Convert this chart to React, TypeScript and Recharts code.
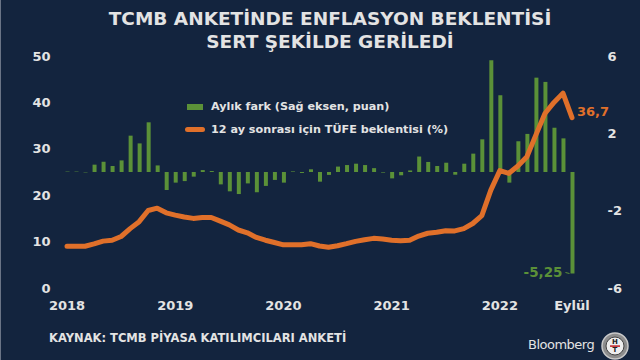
import React from 'react';
import { ComposedChart, Bar, Line, XAxis, YAxis, Legend } from 'recharts';

// aylar (Ocak 2018 - Eylül 2022)
const months = [
  '2018-01', '2018-02', '2018-03', '2018-04', '2018-05', '2018-06', '2018-07', '2018-08', '2018-09', '2018-10', '2018-11', '2018-12',
  '2019-01', '2019-02', '2019-03', '2019-04', '2019-05', '2019-06', '2019-07', '2019-08', '2019-09', '2019-10', '2019-11', '2019-12',
  '2020-01', '2020-02', '2020-03', '2020-04', '2020-05', '2020-06', '2020-07', '2020-08', '2020-09', '2020-10', '2020-11', '2020-12',
  '2021-01', '2021-02', '2021-03', '2021-04', '2021-05', '2021-06', '2021-07', '2021-08', '2021-09', '2021-10', '2021-11', '2021-12',
  '2022-01', '2022-02', '2022-03', '2022-04', '2022-05', '2022-06', '2022-07', '2022-08', '2022-09',
];

// 12 ay sonrası TÜFE beklentisi (%)
const beklenti = [
  9.0, 9.0, 9.0, 9.5, 10.1, 10.3, 11.1, 12.8, 14.3, 16.7, 17.2, 16.2,
  15.7, 15.3, 15.0, 15.2, 15.2, 14.4, 13.6, 12.5, 11.9, 10.9, 10.3, 9.8,
  9.3, 9.3, 9.3, 9.55, 9.05, 8.8, 9.1, 9.55, 10.05, 10.4, 10.7, 10.55,
  10.3, 10.2, 10.3, 11.2, 11.8, 12.0, 12.35, 12.3, 12.8, 13.9, 15.6, 21.1,
  25.3, 24.7, 26.3, 28.3, 33.0, 37.6, 40.0, 42.0, 36.7,
];

// aylık fark (puan, sağ eksen)
const aylikFark = [
  0.02, 0.02, -0.02, 0.38, 0.53, 0.31, 0.6, 1.88, 1.48, 2.57, 0.34, -0.93,
  -0.55, -0.47, -0.24, 0.1, 0.05, -0.64, -1.0, -1.14, -0.59, -1.05, -0.72, -0.41,
  -0.55, 0.03, -0.05, 0.14, -0.5, -0.15, 0.28, 0.36, 0.43, 0.36, 0.2, -0.03,
  -0.33, -0.17, 0.08, 0.8, 0.52, 0.31, 0.48, -0.14, 0.43, 0.95, 1.69, 5.78,
  3.97, -0.55, 1.59, 1.97, 4.88, 4.66, 2.29, 1.74, -5.25,
];

const xTicks = ['2018-01', '2019-01', '2020-01', '2021-01', '2022-01', '2022-09'];
const xTickLabels = ['2018', '2019', '2020', '2021', '2022', 'Eylül'];
const leftTicks = [0, 10, 20, 30, 40, 50];
const rightTicks = [-6, -2, 2, 6];

const data = months.map((m, i) => ({ ay: m, beklenti: beklenti[i], fark: aylikFark[i] }));

const BG = '#13243e';
const GREEN = '#5b9138';
const ORANGE = '#e0702a';
const TEXT = '#e3e3e3';
const FONT = '"DejaVu Sans", Verdana, sans-serif';

const last = data.length - 1;

const fmt = (v: number) => String(v).replace('.', ',');

const LineEndLabel = (props: any) => {
  const { x, y, index, value } = props;
  if (index !== last) return null;
  return (
    <text x={x + 5} y={y - 5} fill={ORANGE} fontSize={13} fontWeight="bold" fontFamily={FONT} dominantBaseline="middle">
      {fmt(value)}
    </text>
  );
};

const BarEndLabel = (props: any) => {
  const { x, y, height, index, value } = props;
  if (index !== last) return null;
  const yEnd = Math.max(y, y + height);
  return (
    <g>
      <line x1={x - 5} x2={x - 1} y1={yEnd - 1} y2={yEnd} stroke={GREEN} strokeWidth={1} />
      <text x={x - 8} y={yEnd - 1} fill={GREEN} fontSize={13.5} fontWeight="bold" fontFamily={FONT} textAnchor="end" dominantBaseline="middle">
        {fmt(value)}
      </text>
    </g>
  );
};

const CustomLegend = (props: any) => {
  const items = [...(props.payload || [])].sort((a: any) => (a.dataKey === 'fark' ? -1 : 1));
  return (
    <div style={{ fontFamily: FONT, fontSize: 11.2, fontWeight: 'bold', color: TEXT }}>
      {items.map((entry: any, i: number) => (
        <div key={`leg-${i}`} style={{ display: 'flex', alignItems: 'center', height: 23 }}>
          {entry.dataKey === 'fark' ? (
            <span style={{ display: 'inline-block', width: 16, height: 6, background: GREEN, marginLeft: 2, marginRight: 8 }} />
          ) : (
            <span style={{ display: 'inline-block', width: 20, height: 5, borderRadius: 3, background: ORANGE, marginRight: 6 }} />
          )}
          <span>{entry.value}</span>
        </div>
      ))}
    </div>
  );
};

const App: React.FC = () => {
  return (
    <div style={{ position: 'absolute', left: 0, top: 0, width: 640, height: 360, background: BG, fontFamily: FONT, overflow: 'hidden' }}>
      <div style={{ position: 'absolute', left: 0, top: 0, width: 1, height: 360, background: '#6a7486' }} />
      <div style={{ position: 'absolute', top: 7, left: 0, width: 660, textAlign: 'center', color: TEXT, fontSize: 18.5, fontWeight: 'bold', lineHeight: '23px' }}>
        TCMB ANKETİNDE ENFLASYON BEKLENTİSİ
        <br />
        SERT ŞEKİLDE GERİLEDİ
      </div>
      <ComposedChart width={640} height={360} data={data} margin={{ top: 56, right: 0, bottom: 42, left: 0 }}>
        <XAxis
          dataKey="ay"
          ticks={xTicks}
          interval={0}
          height={30}
          tickFormatter={(v: string) => xTickLabels[xTicks.indexOf(v)]}
          axisLine={false}
          tickLine={false}
          tickSize={0}
          tickMargin={13}
          tick={{ fill: TEXT, fontSize: 13, fontWeight: 'bold', fontFamily: FONT }}
        />
        <YAxis
          yAxisId="left"
          domain={[0, 50]}
          ticks={leftTicks}
          width={62.5}
          axisLine={false}
          tickLine={false}
          tickSize={0}
          tickMargin={12}
          tick={{ fill: TEXT, fontSize: 13, fontWeight: 'bold', fontFamily: FONT }}
        />
        <YAxis
          yAxisId="right"
          orientation="right"
          domain={[-6, 6]}
          ticks={rightTicks}
          width={63.5}
          axisLine={false}
          tickLine={false}
          tickSize={0}
          tickMargin={31}
          tick={{ fill: TEXT, fontSize: 13, fontWeight: 'bold', fontFamily: FONT }}
        />
        <Legend
          layout="vertical"
          align="center"
          verticalAlign="middle"
          content={<CustomLegend />}
          wrapperStyle={{ position: 'absolute', top: 95, left: 185, width: 300 }}
        />
        <Bar
          yAxisId="right"
          dataKey="fark"
          name="Aylık fark (Sağ eksen, puan)"
          fill={GREEN}
          barSize={4}
          isAnimationActive={false}
          label={<BarEndLabel />}
        />
        <Line
          yAxisId="left"
          type="linear"
          dataKey="beklenti"
          name="12 ay sonrası için TÜFE beklentisi (%)"
          stroke={ORANGE}
          strokeWidth={5}
          strokeLinejoin="round"
          strokeLinecap="round"
          dot={false}
          activeDot={false}
          isAnimationActive={false}
          label={<LineEndLabel />}
        />
      </ComposedChart>
      <div style={{ position: 'absolute', left: 49, top: 331, color: TEXT, fontSize: 11.5, fontWeight: 'bold' }}>
        KAYNAK: TCMB PİYASA KATILIMCILARI ANKETİ
      </div>
      <div style={{ position: 'absolute', left: 528, top: 337, color: TEXT, fontSize: 13, letterSpacing: -0.5 }}>
        Bloomberg
      </div>
      <svg style={{ position: 'absolute', left: 601, top: 332 }} width={28} height={28}>
        <circle cx={14} cy={14} r={13} fill="#8d8d8d" stroke="#c9c9c9" strokeWidth={1.5} />
        <circle cx={14} cy={14} r={9} fill="#eeeeee" stroke="#444" strokeWidth={1} />
        <text x={14} y={10.5} fontSize={7} fontWeight="bold" textAnchor="middle" dominantBaseline="middle" fill="#222" fontFamily={FONT}>
          H
        </text>
        <rect x={9} y={13.3} width={10} height={1.6} fill="#c0282d" />
        <text x={14} y={18.5} fontSize={7} fontWeight="bold" textAnchor="middle" dominantBaseline="middle" fill="#222" fontFamily={FONT}>
          T
        </text>
      </svg>
    </div>
  );
};

export default App;
